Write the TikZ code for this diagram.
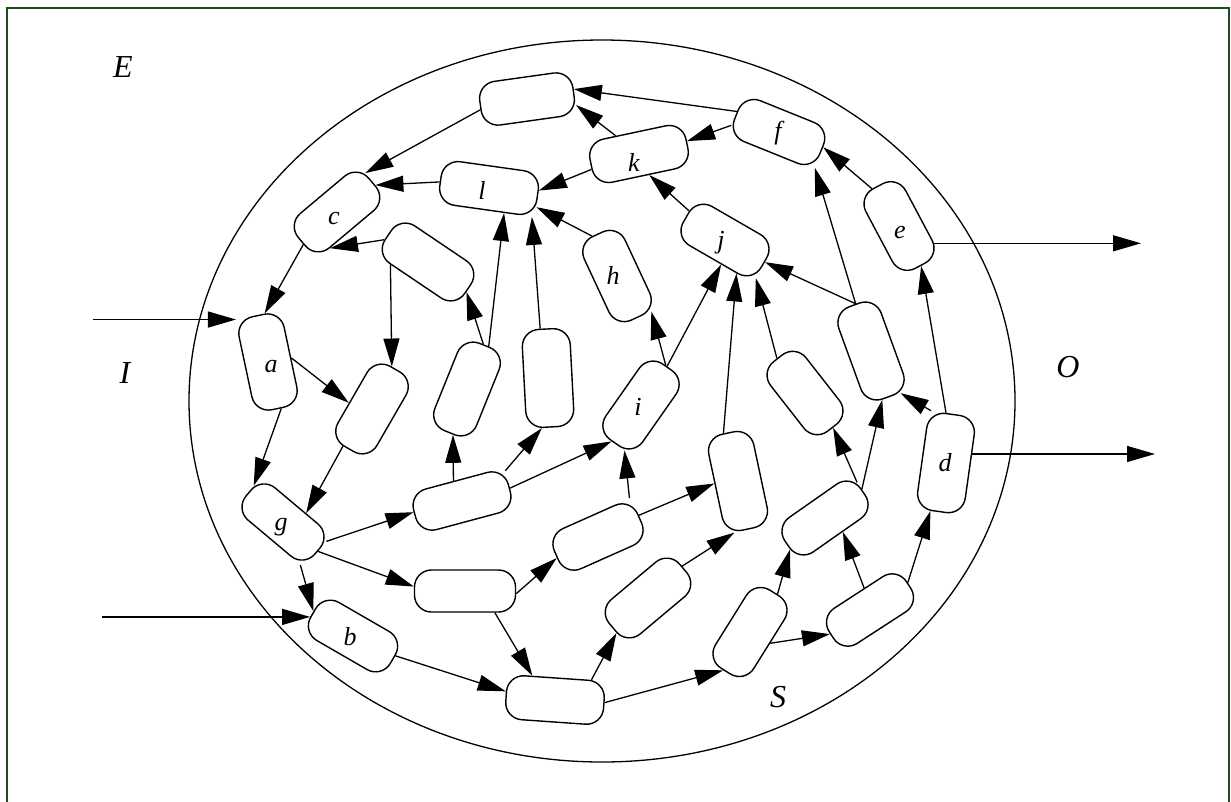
\documentclass[tikz,border=0pt]{standalone}
\usepackage{fontspec}
\setmainfont{Liberation Serif}
\usetikzlibrary{arrows.meta,calc}
\definecolor{framegreen}{RGB}{28,78,28}
\tikzset{
  box/.style={draw, line width=1.4pt, rounded corners=17pt, inner sep=0pt, fill=white},
  lbl/.style={font=\fontsize{26}{26}\selectfont\itshape, inner sep=0pt},
  big/.style={font=\fontsize{32}{32}\selectfont\itshape, inner sep=0pt},
  arr/.style={line width=1.3pt, -{Triangle[length=28pt,width=16pt]}},
}
\newcommand\nd[5]{\expandafter\gdef\csname rot#1\endcsname{#3}%
  \node[box,rotate=#3,minimum width=#4pt,minimum height=#5pt] (#1) at (#2) {};}
\newcommand\cn[4]{%
  \draw[arr] let \p1=(#1), \p2=(#2), \p3=(#3), \p4=(#4),
    \n1={int(mod(atan2(\y2-\y1,\x2-\x1)-\csname rot#1\endcsname+720,360))},
    \n2={int(mod(atan2(\y4-\y3,\x4-\x3)-\csname rot#3\endcsname+720,360))}
    in (#1.\n1) -- (#3.\n2);}
\newcommand\cin[3]{%
  \draw[arr] let \p3=(#2), \p4=(#3),
    \n2={int(mod(atan2(\y4-\y3,\x4-\x3)-\csname rot#2\endcsname+720,360))}
    in (#1 |- #2.\n2) -- (#2.\n2);}
\newcommand\cout[3]{%
  \draw[arr] let \p1=(#1), \p2=(#2),
    \n1={int(mod(atan2(\y2-\y1,\x2-\x1)-\csname rot#1\endcsname+720,360))}
    in (#1.\n1) -- (#3 |- #1.\n1);}
\begin{document}
\begin{tikzpicture}[x=1pt,y=-1pt]
\useasboundingbox (0,0) rectangle (1231,801);
% frame
\draw[framegreen, line width=2.5pt] (7,805) -- (7,8) -- (1229,8) -- (1229,805);
% system boundary
\draw[line width=1.3pt] (602,401) ellipse [x radius=413pt, y radius=361pt];
% region labels
\node[big] (E) at (123,67) {E};
\node[big] (I) at (125,373) {I};
\node[big] (O) at (1068,367) {O};
\node[big] (S) at (778,697) {S};
% nodes
\nd{T1}{527,99}{8}{94}{44}
\nd{nl}{489,188}{-8}{98}{44}
\nd{nc}{337,212}{40}{92}{45}
\nd{U1}{428,262}{-34}{96}{45}
\nd{na}{268,362}{102}{95}{46}
\nd{nh}{617,276}{115}{92}{45}
\nd{nj}{725,240}{-30}{90}{45}
\nd{nk}{639,154}{12}{98}{44}
\nd{nf}{779,132}{-22}{92}{44}
\nd{ne}{899,226}{118}{90}{45}
\nd{Ur}{871,351}{110}{98}{45}
\nd{nd}{946,463}{82}{98}{48}
\nd{U2}{805,393}{128}{88}{45}
\nd{ni}{641,405}{55}{92}{45}
\nd{U3}{372,409}{60}{92}{45}
\nd{U4}{467,389}{68}{94}{45}
\nd{U5}{548,378}{93}{98}{48}
\nd{ng}{283,522}{-40}{90}{42}
\nd{nb}{353,636}{-30}{92}{44}
\nd{U6}{462,501}{15}{98}{42}
\nd{U7}{465,591}{0}{101}{42}
\nd{U8}{555,700}{-4}{98}{44}
\nd{U9}{598,537}{24}{91}{44}
\nd{U10}{738,481}{102}{98}{46}
\nd{U11}{648,598}{40}{92}{45}
\nd{U12}{750,632}{58}{92}{45}
\nd{U13}{825,518}{35}{92}{42}
\nd{U14}{870,610}{33}{92}{42}
% node labels
\node[lbl] at (271,367) {a};
\node[lbl] at (350,637) {b};
\node[lbl] at (334,218) {c};
\node[lbl] at (945,463) {d};
\node[lbl] at (900,232) {e};
\node[lbl] at (778,133) {f};
\node[lbl] at (281,527) {g};
\node[lbl] at (613,275) {h};
\node[lbl] at (638,407) {i};
\node[lbl] at (721,243) {j};
\node[lbl] at (634,162) {k};
\node[lbl] at (482,190) {l};
% free ends
\coordinate (inA) at (93,326);
\coordinate (inB) at (102,616);
\coordinate (outE) at (1141,244);
\coordinate (outD) at (1155,453);
% connectors
\cn{nf}{733,110}{T1}{575,88}
\cn{nk}{612,133}{T1}{573,104}
\cn{T1}{481,110}{nc}{366,172}
\cn{nl}{440,182}{nc}{379,182}
\cn{nk}{591,170}{nl}{537,190}
\cn{nf}{734,126}{nk}{688,140}
\cn{nj}{683,207}{nk}{652,180}
\cn{nh}{590,233}{nl}{533,205}
\cn{U4}{490,342}{nl}{505,214}
\cn{U5}{540,329}{nl}{528,214}
\cn{U1}{383,240}{nc}{330,250}
\cn{U1}{393,265}{U3}{393,363}
\cn{U4}{484,341}{U1}{467,292}
\cn{nc}{300,248}{na}{264,313}
\cin{inA}{na}{240,326}
\cn{na}{290,358}{U3}{345,402}
\cn{na}{282,410}{ng}{252,484}
\cn{U3}{340,450}{ng}{308,512}
\cn{ng}{326,541}{U6}{413,513}
\cn{ng}{322,554}{U7}{415,587}
\cn{ng}{299,561}{nb}{310,610}
\cin{inB}{nb}{308,616}
\cn{nb}{399,657}{U8}{507,692}
\cn{U7}{494,612}{U8}{532,676}
\cn{U7}{515,593}{U9}{553,560}
\cn{U6}{453,480}{U4}{453,436}
\cn{U6}{503,472}{U5}{542,427}
\cn{U6}{512,487}{ni}{610,444}
\cn{U9}{625,503}{ni}{625,450}
\cn{U9}{643,513}{U10}{712,484}
\cn{ni}{667,362}{nh}{650,310}
\cn{ni}{670,362}{nj}{720,274}
\cn{U10}{723,432}{nj}{738,276}
\cn{U2}{772,353}{nj}{756,277}
\cn{Ur}{855,303}{nj}{768,263}
\cn{Ur}{855,303}{nf}{812,165}
\cn{ne}{869,185}{nf}{825,147}
\cout{ne}{936,244}{outE}
\cn{nd}{946,413}{ne}{924,270}
\cn{nd}{934,423}{Ur}{906,400}
\cout{nd}{974,453}{outD}
\cn{U13}{857,482}{U2}{838,433}
\cn{U13}{866,485}{Ur}{883,400}
\cn{U14}{863,585}{U13}{843,532}
\cn{U14}{910,580}{nd}{931,510}
\cn{U12}{770,643}{U14}{825,638}
\cn{U12}{780,590}{U13}{788,552}
\cn{U8}{605,702}{U12}{722,673}
\cn{U8}{590,680}{U11}{613,637}
\cn{U11}{685,563}{U10}{735,530}
\end{tikzpicture}
\end{document}
